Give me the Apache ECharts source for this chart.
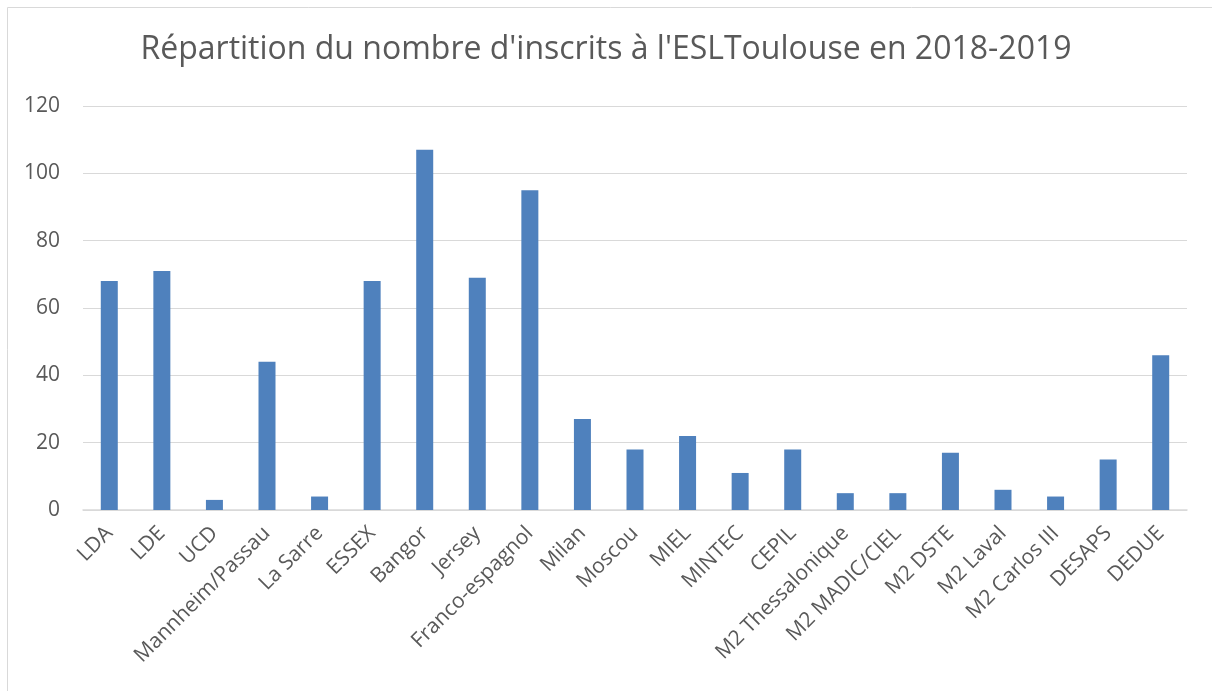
<!DOCTYPE html>
<html>
<head>
<meta charset="utf-8">
<script src="https://cdn.jsdelivr.net/npm/echarts@6/dist/echarts.min.js"></script>
<style>
html, body { margin: 0; padding: 0; background: #fff; }
#chart { width: 1212px; height: 691px; }
</style>
</head>
<body>
<div id="chart"></div>
<script>
// noms des formations et nombre d'inscrits
var formations = ['LDA', 'LDE', 'UCD', 'Mannheim/Passau', 'La Sarre', 'ESSEX', 'Bangor', 'Jersey',
    'Franco-espagnol', 'Milan', 'Moscou', 'MIEL', 'MINTEC', 'CEPIL', 'M2 Thessalonique',
    'M2 MADIC/CIEL', 'M2 DSTE', 'M2 Laval', 'M2 Carlos III', 'DESAPS', 'DEDUE'];
var inscrits = [68, 71, 3, 44, 4, 68, 107, 69, 95, 27, 18, 22, 11, 18, 5, 5, 17, 6, 4, 15, 46];
var yTicks = [0, 20, 40, 60, 80, 100, 120];

var chart = echarts.init(document.getElementById('chart'));
var police = 'Open Sans';

var option = {
    animation: false,
    title: {
        text: "Répartition du nombre d'inscrits à l'ESLToulouse en 2018-2019",
        left: 'center',
        top: 29,
        textStyle: {
            fontFamily: police,
            fontWeight: 'normal',
            fontSize: 32,
            color: '#595959'
        }
    },
    graphic: [{
        type: 'rect',
        shape: { x: 7.5, y: 7.5, width: 1210, height: 700 },
        style: { fill: 'none', stroke: '#d9d9d9', lineWidth: 1 },
        silent: true
    }],
    grid: {
        left: 83,
        right: 25,
        top: 106,
        bottom: 181
    },
    xAxis: {
        type: 'category',
        data: formations,
        axisLine: { lineStyle: { color: '#d9d9d9', width: 1.5 } },
        axisTick: { show: false },
        axisLabel: {
            interval: 0,
            rotate: 45,
            margin: 20,
            fontFamily: police,
            fontSize: 21,
            color: '#595959'
        }
    },
    yAxis: {
        type: 'value',
        min: yTicks[0],
        max: yTicks[yTicks.length - 1],
        interval: 20,
        axisLine: { show: false },
        axisTick: { show: false },
        splitLine: { lineStyle: { color: '#d9d9d9', width: 1 } },
        axisLabel: {
            margin: 23,
            fontFamily: police,
            fontSize: 21,
            color: '#595959'
        }
    },
    series: [{
        type: 'bar',
        data: inscrits,
        barWidth: 17,
        itemStyle: { color: '#4f81bd' }
    }]
};

chart.setOption(option);
</script>
</body>
</html>
